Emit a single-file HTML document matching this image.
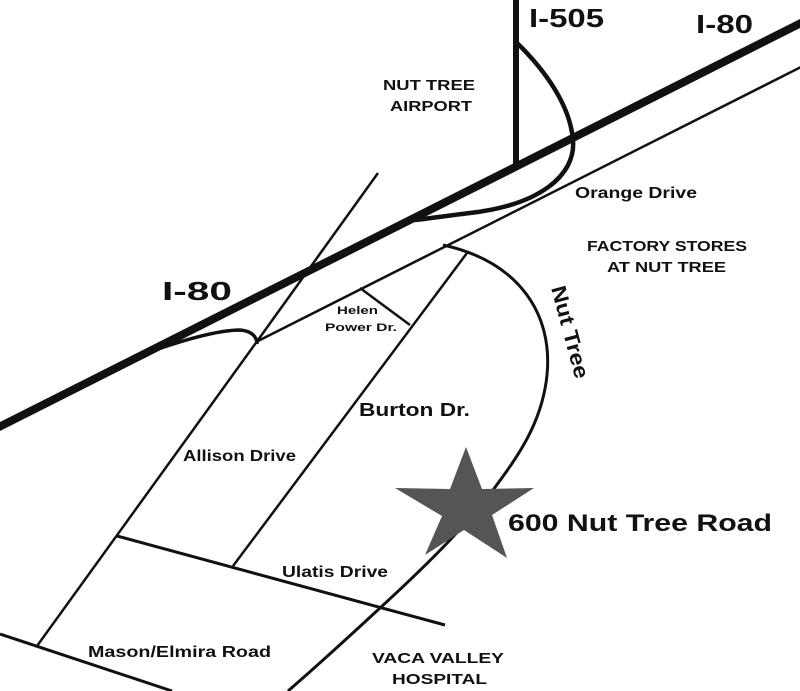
<!DOCTYPE html>
<html><head><meta charset="utf-8"><style>
html,body{margin:0;padding:0;background:#fff;}
svg{display:block;}
text{font-family:"Liberation Sans",sans-serif;font-weight:bold;fill:#111;}
</style></head><body>
<svg width="800" height="691" viewBox="0 0 800 691" xmlns="http://www.w3.org/2000/svg">
<g stroke="#111" fill="none" stroke-linecap="butt">
  <line x1="-5" y1="429" x2="805" y2="21" stroke-width="8"/>
  <line x1="516" y1="0" x2="516" y2="164" stroke-width="6"/>
  <path d="M516,42 C545,70 570,105 573,140 C576,175 540,205 470,213 C445,216 425,219 415,220" stroke-width="4.5"/>
  <line x1="805" y1="65" x2="258" y2="341" stroke-width="2.5"/>
  <line x1="378" y1="173" x2="258" y2="340" stroke-width="2.5"/>
  <path d="M155,350 C190,338 220,330 240,330 C252,331 257,337 257,344" stroke-width="3.5"/>
  <line x1="258" y1="340" x2="37" y2="646" stroke-width="2.5"/>
  <line x1="360" y1="288" x2="410" y2="325" stroke-width="2.5"/>
  <line x1="467" y1="253" x2="233" y2="566" stroke-width="2.5"/>
  <line x1="117" y1="536" x2="445" y2="625" stroke-width="3"/>
  <line x1="0" y1="634" x2="172" y2="691" stroke-width="3"/>
  <path d="M443,245 C520,262 553,315 547,375 C542,425 515,460 493,490 C470,520 440,553 380,608 C340,645 310,672 288,691" stroke-width="3"/>
</g>
<polygon points="466,447 482,489 534,488 492,515 507,558 464,530 425,555 442,516 395,488 450,489" fill="#555"/>
<text x="529" y="27" font-size="26" textLength="75" lengthAdjust="spacingAndGlyphs">I-505</text>
<text x="696" y="33" font-size="26" textLength="57" lengthAdjust="spacingAndGlyphs">I-80</text>
<text x="162" y="300" font-size="26" textLength="70" lengthAdjust="spacingAndGlyphs">I-80</text>
<text x="383" y="90" font-size="15" textLength="92" lengthAdjust="spacingAndGlyphs">NUT TREE</text>
<text x="390" y="111" font-size="15" textLength="82" lengthAdjust="spacingAndGlyphs">AIRPORT</text>
<text x="575" y="198" font-size="16" textLength="122" lengthAdjust="spacingAndGlyphs">Orange Drive</text>
<text x="587" y="251" font-size="15" textLength="160" lengthAdjust="spacingAndGlyphs">FACTORY STORES</text>
<text x="607" y="272" font-size="15" textLength="119" lengthAdjust="spacingAndGlyphs">AT NUT TREE</text>
<text x="337" y="314" font-size="11" textLength="41" lengthAdjust="spacingAndGlyphs">Helen</text>
<text x="325" y="331" font-size="11" textLength="72" lengthAdjust="spacingAndGlyphs">Power Dr.</text>
<text x="359" y="416" font-size="18" textLength="111" lengthAdjust="spacingAndGlyphs">Burton Dr.</text>
<text x="183" y="461" font-size="16" textLength="113" lengthAdjust="spacingAndGlyphs">Allison Drive</text>
<text x="282" y="577" font-size="16" textLength="106" lengthAdjust="spacingAndGlyphs">Ulatis Drive</text>
<text x="88" y="657" font-size="16" textLength="183" lengthAdjust="spacingAndGlyphs">Mason/Elmira Road</text>
<text x="372" y="663" font-size="15" textLength="132" lengthAdjust="spacingAndGlyphs">VACA VALLEY</text>
<text x="392" y="684" font-size="15" textLength="95" lengthAdjust="spacingAndGlyphs">HOSPITAL</text>
<text x="508" y="531" font-size="24" textLength="264" lengthAdjust="spacingAndGlyphs">600 Nut Tree Road</text>
<text transform="translate(551,288) rotate(75)" font-size="21" textLength="95" lengthAdjust="spacingAndGlyphs">Nut Tree</text>
</svg>
</body></html>
